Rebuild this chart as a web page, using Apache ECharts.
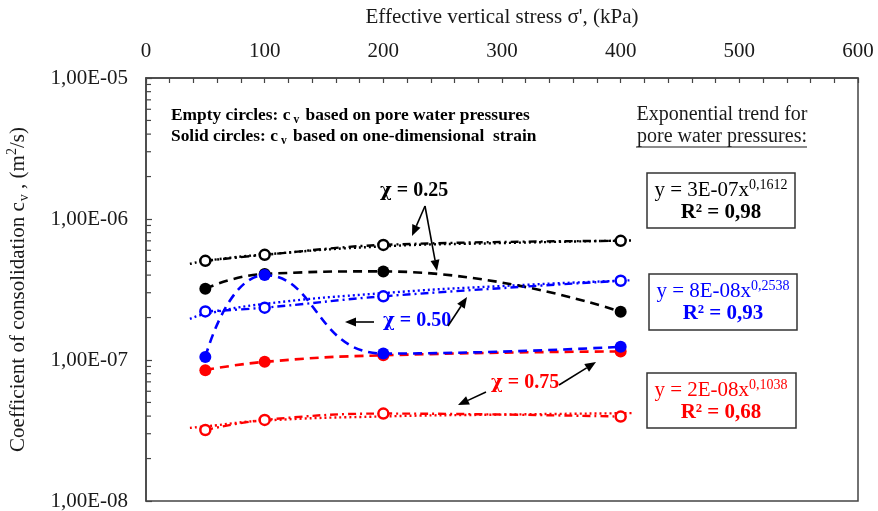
<!DOCTYPE html>
<html><head><meta charset="utf-8">
<script src="https://cdn.jsdelivr.net/npm/echarts@6/dist/echarts.min.js"></script>
<style>html,body{margin:0;padding:0;background:#fff}#c{width:878px;height:511px}</style>
</head><body><div id="c"></div>
<script>
// ---- data ----
const stress = [50, 100, 200, 400];                 // kPa
const trendStress = [37, 50, 100, 200, 300, 410];   // kPa, extent of the trend lines
const blackPwp    = [5.05e-7, 5.57e-7, 6.55e-7, 7.0e-7];
const blackStrain = [3.2e-7, 4.08e-7, 4.25e-7, 2.2e-7];
const bluePwp     = [2.21e-7, 2.35e-7, 2.83e-7, 3.65e-7];
const blueStrain  = [1.05e-7, 4.0e-7, 1.11e-7, 1.24e-7];
const redPwp      = [3.19e-8, 3.76e-8, 4.17e-8, 3.97e-8];
const redStrain   = [8.47e-8, 9.7e-8, 1.08e-7, 1.15e-7];
const blackTrend  = [4.8e-7, 5.05e-7, 5.6e-7, 6.4e-7, 6.75e-7, 7.05e-7];
const blueTrend   = [1.96e-7, 2.12e-7, 2.5e-7, 2.98e-7, 3.35e-7, 3.68e-7];
const redTrend    = [3.3e-8, 3.38e-8, 3.72e-8, 3.98e-8, 4.1e-8, 4.2e-8];
const yTickLabels = ['1,00E-08', '1,00E-07', '1,00E-06', '1,00E-05'];
const yMinorMultipliers = [2, 3, 4, 5, 6, 7, 8, 9];

const SERIF = '"Liberation Serif", "Times New Roman", serif';
const BLACK = '#000000', BLUE = '#0000ff', RED = '#ff0000';

function pairs(xs, ys) { return xs.map((x, i) => [x, ys[i]]); }

function strainSeries(name, ys, color) {
  return { name, type: 'line', data: pairs(stress, ys), smooth: 0.5,
    symbol: 'circle', symbolSize: 12,
    lineStyle: { color, width: 2.6, type: [9, 6] },
    itemStyle: { color, borderColor: color, borderWidth: 0 }, z: 3 };
}
function pwpSeries(name, ys, color) {
  return { name, type: 'line', data: pairs(stress, ys), smooth: 0.4,
    symbol: 'circle', symbolSize: 10,
    lineStyle: { color, width: 2.4, type: [8, 4, 2, 4] },
    itemStyle: { color: '#ffffff', borderColor: color, borderWidth: 2.5 }, z: 4 };
}
function trendSeries(name, ys, color) {
  return { name, type: 'line', data: pairs(trendStress, ys), smooth: 0.5,
    symbol: 'none', lineStyle: { color, width: 2.4, type: [2, 3] }, z: 2 };
}

const chart = echarts.init(document.getElementById('c'), null, { renderer: 'canvas' });

const option = {
  animation: false,
  backgroundColor: '#ffffff',
  grid: { left: 146, top: 78, right: 20, bottom: 10, show: true, containLabel: false,
    outerBoundsMode: 'none',
    borderColor: '#444', borderWidth: 1.5, backgroundColor: 'transparent' },
  xAxis: {
    type: 'value', position: 'top', min: 0, max: 600, interval: 100,
    name: "Effective vertical stress σ', (kPa)", nameLocation: 'middle', nameGap: 50,
    nameTextStyle: { fontFamily: SERIF, fontSize: 21, color: '#1a1a1a' },
    axisLine: { show: true, lineStyle: { color: '#444', width: 1.5 } },
    axisTick: { show: true, inside: true, length: 5, lineStyle: { color: '#444', width: 1.2 } },
    minorTick: { show: true, splitNumber: 5, length: 5, lineStyle: { color: '#444', width: 1.2 } },
    axisLabel: { fontFamily: SERIF, fontSize: 21, color: '#1a1a1a', margin: 16 },
    splitLine: { show: false }
  },
  yAxis: {
    type: 'log', logBase: 10, min: 1e-8, max: 1e-5,
    name: '{n|Coefficient of consolidation c}{sub|v}{n| , (m}{sup|2}{n|/s)}',
    nameLocation: 'middle', nameGap: 115, nameRotate: 90,
    nameTextStyle: { fontFamily: SERIF, fontSize: 21, color: '#1a1a1a',
      rich: {
        n: { fontFamily: SERIF, fontSize: 21, color: '#1a1a1a', lineHeight: 26 },
        sub: { fontFamily: SERIF, fontSize: 14, color: '#1a1a1a', verticalAlign: 'bottom', lineHeight: 26, padding: [0, 0, 0, 1] },
        sup: { fontFamily: SERIF, fontSize: 14, color: '#1a1a1a', verticalAlign: 'top', lineHeight: 26 }
      } },
    axisLine: { show: true, lineStyle: { color: '#444', width: 1.5 } },
    axisTick: { show: true, inside: true, length: 6, lineStyle: { color: '#444', width: 1.2 } },
    axisLabel: { fontFamily: SERIF, fontSize: 21, color: '#1a1a1a', margin: 18,
      formatter: v => { const e = Math.round(Math.log10(v)); return yTickLabels[e + 8] || ''; } },
    splitLine: { show: false }
  },
  series: [
    trendSeries('trend χ=0.25', blackTrend, BLACK),
    trendSeries('trend χ=0.50', blueTrend, BLUE),
    trendSeries('trend χ=0.75', redTrend, RED),
    pwpSeries('χ=0.25 pore water', blackPwp, BLACK),
    pwpSeries('χ=0.50 pore water', bluePwp, BLUE),
    pwpSeries('χ=0.75 pore water', redPwp, RED),
    strainSeries('χ=0.25 strain', blackStrain, BLACK),
    strainSeries('χ=0.75 strain', redStrain, RED),
    strainSeries('χ=0.50 strain', blueStrain, BLUE)
  ]
};
chart.setOption(option);

// ---- annotations ----
function arrow(x1, y1, x2, y2) {
  const a = Math.atan2(y2 - y1, x2 - x1), L = 11, W = 4.5;
  const bx = x2 - L * Math.cos(a), by = y2 - L * Math.sin(a);
  const px = -Math.sin(a) * W, py = Math.cos(a) * W;
  return [
    { type: 'line', silent: true, z: 10, shape: { x1, y1, x2: bx, y2: by }, style: { stroke: '#000', lineWidth: 1.6 } },
    { type: 'polygon', silent: true, z: 10, shape: { points: [[x2, y2], [bx + px, by + py], [bx - px, by - py]] }, style: { fill: '#000' } }
  ];
}
function txt(x, y, text, rich, align) {
  return { type: 'text', x, y, z: 10, silent: true,
    style: { text, rich, align: align || 'left', verticalAlign: 'middle' } };
}
const legRich = {
  b: { fontFamily: SERIF, fontSize: 17.4, fontWeight: 'bold', fill: '#000', lineHeight: 21 },
  s: { fontFamily: SERIF, fontSize: 11.5, fontWeight: 'bold', fill: '#000', lineHeight: 21, verticalAlign: 'bottom', padding: [0, 2, 0, 3] }
};
function eqRich(color) {
  return {
    e: { fontFamily: SERIF, fontSize: 21, fill: color, lineHeight: 24 },
    p: { fontFamily: SERIF, fontSize: 14, fill: color, lineHeight: 24, verticalAlign: 'top' },
    r: { fontFamily: SERIF, fontSize: 21, fontWeight: 'bold', fill: color, lineHeight: 24 }
  };
}
function chi(color) {
  return {
    x: { fontFamily: '"DejaVu Serif", serif', fontSize: 18, fontWeight: 'bold', fill: color, lineHeight: 24 },
    c: { fontFamily: SERIF, fontSize: 20, fontWeight: 'bold', fill: color, lineHeight: 24 }
  };
}
const boxStyle = { stroke: '#333', lineWidth: 1.5, fill: '#ffffff' };

const g = [];
// y-axis minor ticks, positioned through the axis scale
const x0 = chart.convertToPixel({ xAxisIndex: 0 }, 0);
for (let d = -8; d <= -6; d++) {
  yMinorMultipliers.forEach(k => {
    const y = chart.convertToPixel({ yAxisIndex: 0 }, k * Math.pow(10, d));
    g.push({ type: 'line', silent: true, shape: { x1: x0, y1: y, x2: x0 + 5, y2: y }, style: { stroke: '#444', lineWidth: 1.2 } });
  });
}
g.push(txt(171, 116, '{b|Empty circles: c}{s|v}{b| based on pore water pressures}', legRich));
g.push(txt(171, 137, '{b|Solid circles: c}{s|v}{b| based on one-dimensional  strain}', legRich));
const hdRich = { h: { fontFamily: SERIF, fontSize: 20, fill: '#1a1a1a' } };
g.push(txt(722, 115, '{h|Exponential trend for}', hdRich, 'center'));
g.push(txt(722, 137, '{h|pore water pressures:}', hdRich, 'center'));
g.push({ type: 'line', silent: true, shape: { x1: 636, y1: 147, x2: 807, y2: 147 }, style: { stroke: '#1a1a1a', lineWidth: 1.2 } });

g.push({ type: 'rect', silent: true, z: 9, shape: { x: 647, y: 173, width: 148, height: 55 }, style: boxStyle });
g.push(txt(721, 190, '{e|y = 3E-07x}{p|0,1612}', eqRich('#000'), 'center'));
g.push(txt(721, 213, '{r|R² = 0,98}', eqRich('#000'), 'center'));

g.push({ type: 'rect', silent: true, z: 9, shape: { x: 649, y: 274, width: 148, height: 56 }, style: boxStyle });
g.push(txt(723, 291, '{e|y = 8E-08x}{p|0,2538}', eqRich(BLUE), 'center'));
g.push(txt(723, 314, '{r|R² = 0,93}', eqRich(BLUE), 'center'));

g.push({ type: 'rect', silent: true, z: 9, shape: { x: 647, y: 373, width: 149, height: 55 }, style: boxStyle });
g.push(txt(721, 390, '{e|y = 2E-08x}{p|0,1038}', eqRich(RED), 'center'));
g.push(txt(721, 413, '{r|R² = 0,68}', eqRich(RED), 'center'));

g.push(txt(380, 191, '{x|χ}{c| = 0.25}', chi('#000')));
g.push(txt(383, 321, '{x|χ}{c| = 0.50}', chi(BLUE)));
g.push(txt(491, 383, '{x|χ}{c| = 0.75}', chi(RED)));

g.push(...arrow(425, 206, 412, 236));
g.push(...arrow(425, 206, 437, 271));
g.push(...arrow(374, 322, 345, 322));
g.push(...arrow(448, 326, 467, 297));
g.push(...arrow(486, 392, 458, 405));
g.push(...arrow(559, 385, 596, 362));

chart.setOption({ graphic: { elements: g } });
</script>
</body></html>
